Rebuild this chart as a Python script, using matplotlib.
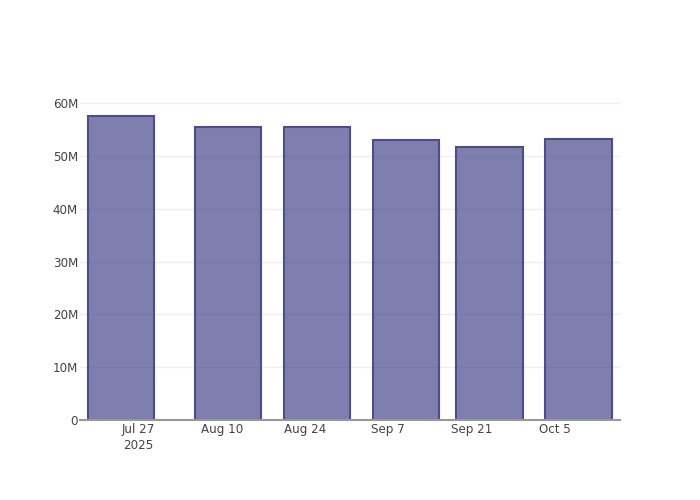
import datetime as dt
import matplotlib
matplotlib.use('Agg')
import matplotlib.pyplot as plt
from matplotlib.ticker import FuncFormatter

# data
dates = ['2025-07-24', '2025-08-11', '2025-08-26', '2025-09-10', '2025-09-24', '2025-10-09']
values = [57.5e6, 55.5e6, 55.4e6, 53.0e6, 51.7e6, 53.2e6]
tick_dates = ['2025-07-27', '2025-08-10', '2025-08-24', '2025-09-07', '2025-09-21', '2025-10-05']
tick_labels = ['Jul 27\n2025', 'Aug 10', 'Aug 24', 'Sep 7', 'Sep 21', 'Oct 5']

x = [dt.datetime.strptime(d, '%Y-%m-%d') for d in dates]
xt = [dt.datetime.strptime(d, '%Y-%m-%d') for d in tick_dates]

plt.rcParams['font.family'] = ['DejaVu Sans']

fig = plt.figure(figsize=(7, 5), dpi=100)
ax = fig.add_axes([80/700, 80/500, 540/700, 320/500])

# semi-transparent fill so the grid shows faintly through, like the original
ax.bar(x, values, width=11.2, color=(42/255, 42/255, 123/255, 0.6),
       edgecolor='#4d4d8c', linewidth=1.5, zorder=3)

ax.set_xlim(dt.datetime(2025, 7, 17, 3), dt.datetime(2025, 10, 16, 0))
ax.set_ylim(0, 60.6e6)
ax.set_yticks([0, 10e6, 20e6, 30e6, 40e6, 50e6, 60e6])
ax.yaxis.set_major_formatter(FuncFormatter(lambda v, p: '0' if v == 0 else f'{v/1e6:.0f}M'))
ax.set_xticks(xt)
ax.set_xticklabels(tick_labels, linespacing=1.25)

ax.grid(axis='y', color='#eeeeee', linewidth=1, zorder=0)
for s in ['top', 'right', 'left']:
    ax.spines[s].set_visible(False)
ax.spines['bottom'].set_color('#999999')
ax.spines['bottom'].set_linewidth(1.5)
ax.spines['bottom'].set_zorder(4)
ax.tick_params(axis='both', length=0, labelsize=8.6, labelcolor='#444444')
ax.tick_params(axis='y', pad=1.5)
ax.tick_params(axis='x', pad=2.5)

fig.savefig('out.png', dpi=100)
